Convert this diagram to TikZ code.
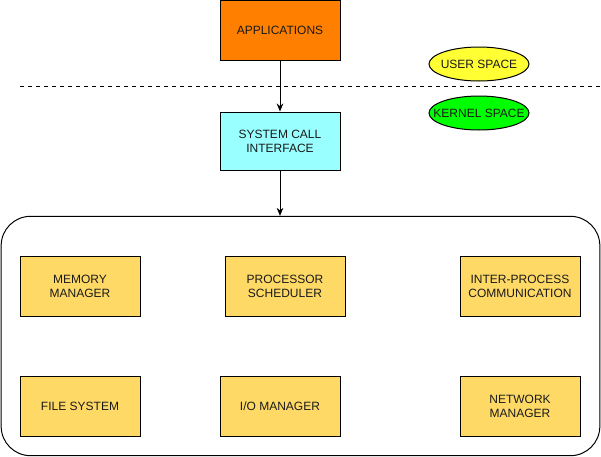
\documentclass[tikz,border=0pt]{standalone}
\usepackage{fontspec}
\setmainfont{Liberation Sans}
\usetikzlibrary{arrows.meta,shapes.geometric}
\definecolor{appfill}{HTML}{FF8000}
\definecolor{scfill}{HTML}{99FFFF}
\definecolor{modfill}{HTML}{FFD966}
\definecolor{userfill}{HTML}{FFFF33}
\definecolor{kernfill}{HTML}{00FF00}
\definecolor{txt}{HTML}{1A1A1A}
\begin{document}
\begin{tikzpicture}[x=0.75pt,y=-0.75pt,
  box/.style={draw=black,line width=0.75pt,minimum width=90pt,minimum height=45pt,inner sep=0pt,align=center,text=txt,font=\fontsize{9}{10.5}\selectfont},
  modbox/.style={box,fill=modfill},
  spaceell/.style={ellipse,draw=black,line width=0.75pt,minimum width=75pt,minimum height=25.5pt,inner sep=0pt,text=txt,font=\fontsize{9}{10.5}\selectfont},
  arr/.style={-{Stealth[length=6pt,width=5pt]},line width=0.75pt}]
\useasboundingbox (0,0) rectangle (601,457);
\node[box,fill=appfill] (app) at (280,30) {APPLICATIONS};
\node[box,fill=scfill,minimum height=43.5pt] (sc) at (280,141) {SYSTEM CALL\\INTERFACE};
\node[spaceell,fill=userfill] (user) at (479,64) {\makebox[0pt]{USER SPACE}};
\node[spaceell,fill=kernfill] (kern) at (479,113) {\makebox[0pt]{KERNEL SPACE}};
\coordinate (dl) at (20,86);
\coordinate (dr) at (601,86);
\draw[dash pattern=on 3pt off 3pt,line width=0.6pt] (dl) -- (dr);
\node[draw=black,line width=0.75pt,rounded corners=22pt,minimum width=449pt,minimum height=179.5pt,inner sep=0pt] (kernelbox) at (300.5,336) {};
\node[modbox] (mem) at (80,286) {MEMORY\\MANAGER};
\node[modbox] (proc) at (285,286) {PROCESSOR\\SCHEDULER};
\node[modbox] (ipc) at (520,286) {INTER-PROCESS\\COMMUNICATION};
\node[modbox] (fs) at (80,406) {FILE SYSTEM};
\node[modbox] (io) at (280,406) {I/O MANAGER};
\node[modbox] (net) at (520,406) {NETWORK\\MANAGER};
\draw[arr] (app.south) -- (sc.north);
\draw[arr] (sc.south) -- (kernelbox.north -| sc.south);
\end{tikzpicture}
\end{document}
